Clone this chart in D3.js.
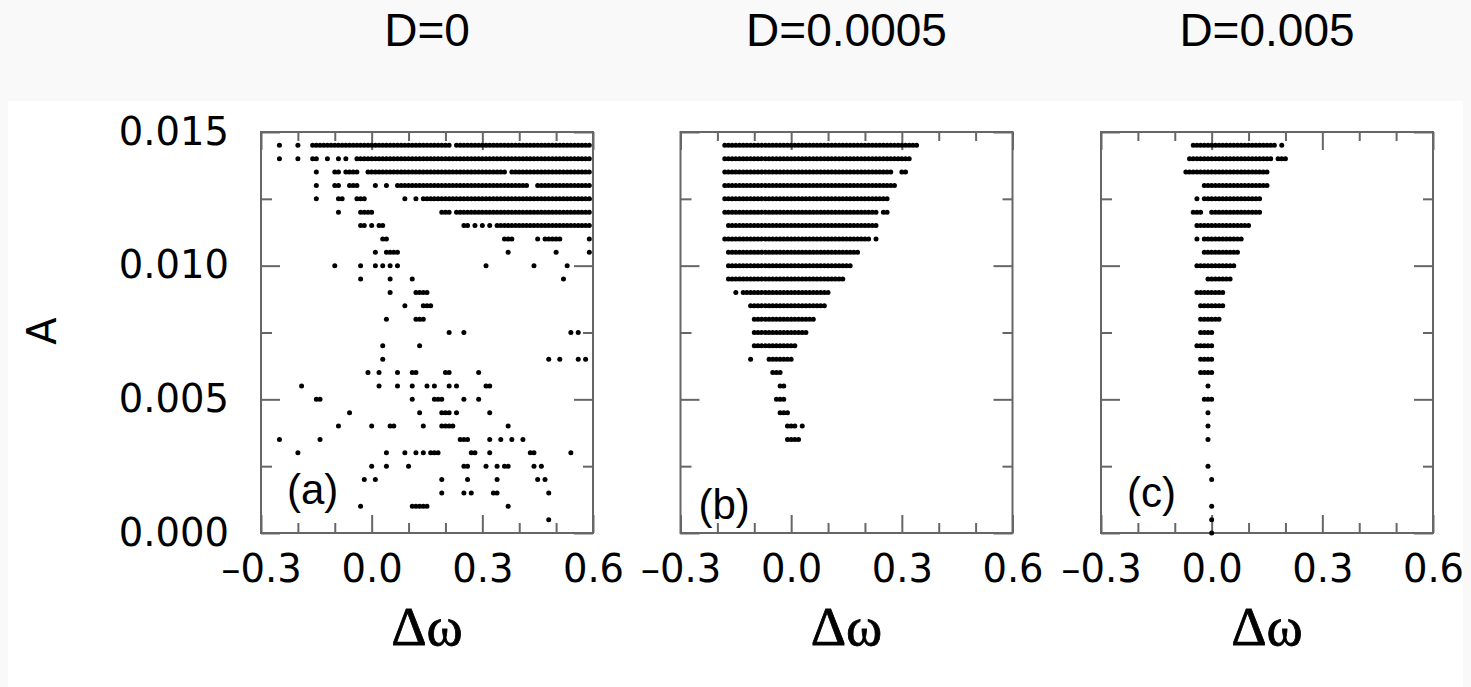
<!DOCTYPE html>
<html>
<head>
<meta charset="utf-8">
<script src="https://cdn.jsdelivr.net/npm/d3@7/dist/d3.min.js"></script>
<style>
  body { margin: 0; background: #f9f9f9; }
  svg { display: block; }
</style>
</head>
<body>
<script>
// panel headings and labels
var titles = ["D=0", "D=0.0005", "D=0.005"];
var tags = ["(a)", "(b)", "(c)"];

// tick values
var xTicks = [-0.3, 0.0, 0.3, 0.6];
var xMinor = [-0.2, -0.1, 0.1, 0.2, 0.4, 0.5];
var yTicks = [0.000, 0.005, 0.010, 0.015];
var yMinor = [0.0025, 0.0075, 0.0125];

// runs of points: [A, dOmega from, dOmega to]  (from == to -> single point)
var runsA = [
  [0.0145,-0.25,-0.25],[0.0145,-0.20,-0.20],[0.0145,-0.16,0.21],[0.0145,0.23,0.59],
  [0.014,-0.25,-0.25],[0.014,-0.20,-0.20],[0.014,-0.16,-0.15],[0.014,-0.12,-0.12],[0.014,-0.09,-0.09],[0.014,-0.07,-0.07],[0.014,-0.04,0.59],
  [0.0135,-0.15,-0.15],[0.0135,-0.10,-0.09],[0.0135,-0.07,-0.04],[0.0135,-0.01,0.36],[0.0135,0.38,0.59],
  [0.013,-0.15,-0.15],[0.013,-0.10,-0.09],[0.013,-0.06,-0.04],[0.013,0.01,0.01],[0.013,0.04,0.04],[0.013,0.07,0.42],[0.013,0.45,0.59],
  [0.0125,-0.15,-0.15],[0.0125,-0.09,-0.08],[0.0125,-0.04,-0.02],[0.0125,0.09,0.09],[0.0125,0.12,0.12],[0.0125,0.14,0.59],
  [0.012,-0.09,-0.09],[0.012,-0.03,0.00],[0.012,0.19,0.21],[0.012,0.23,0.59],
  [0.0115,-0.03,-0.02],[0.0115,0.00,0.00],[0.0115,0.02,0.03],[0.0115,0.25,0.26],[0.0115,0.28,0.28],[0.0115,0.30,0.30],[0.0115,0.32,0.32],[0.0115,0.34,0.59],
  [0.011,0.03,0.04],[0.011,0.36,0.38],[0.011,0.45,0.45],[0.011,0.47,0.51],[0.011,0.59,0.59],
  [0.0105,0.01,0.01],[0.0105,0.04,0.07],[0.0105,0.37,0.37],[0.0105,0.50,0.50],[0.0105,0.59,0.59],
  [0.010,-0.10,-0.10],[0.010,-0.03,-0.03],[0.010,0.01,0.01],[0.010,0.03,0.03],[0.010,0.05,0.05],[0.010,0.07,0.07],[0.010,0.31,0.31],[0.010,0.44,0.44],[0.010,0.53,0.53],
  [0.0095,-0.03,-0.03],[0.0095,0.05,0.05],[0.0095,0.11,0.11],[0.0095,0.52,0.52],
  [0.009,0.05,0.05],[0.009,0.12,0.15],
  [0.0085,0.09,0.09],[0.0085,0.14,0.16],
  [0.008,0.04,0.04],[0.008,0.12,0.14],
  [0.0075,0.21,0.21],[0.0075,0.25,0.25],[0.0075,0.54,0.54],[0.0075,0.56,0.56],
  [0.007,0.03,0.03],[0.007,0.13,0.13],
  [0.0065,0.03,0.03],[0.0065,0.48,0.48],[0.0065,0.51,0.51],[0.0065,0.56,0.56],[0.0065,0.58,0.58],
  [0.006,-0.01,-0.01],[0.006,0.02,0.02],[0.006,0.07,0.07],[0.006,0.11,0.12],[0.006,0.20,0.21],[0.006,0.29,0.29],
  [0.0055,-0.19,-0.19],[0.0055,0.02,0.02],[0.0055,0.07,0.07],[0.0055,0.11,0.11],[0.0055,0.15,0.15],[0.0055,0.17,0.17],[0.0055,0.21,0.21],[0.0055,0.23,0.23],[0.0055,0.31,0.32],
  [0.005,-0.15,-0.14],[0.005,0.11,0.11],[0.005,0.17,0.19],[0.005,0.25,0.25],[0.005,0.29,0.29],
  [0.0045,-0.06,-0.06],[0.0045,0.13,0.13],[0.0045,0.19,0.21],[0.0045,0.23,0.23],[0.0045,0.32,0.32],
  [0.004,-0.09,-0.09],[0.004,0.00,0.00],[0.004,0.05,0.06],[0.004,0.14,0.14],[0.004,0.19,0.22],[0.004,0.37,0.37],
  [0.0035,-0.25,-0.25],[0.0035,-0.14,-0.14],[0.0035,0.24,0.26],[0.0035,0.32,0.32],[0.0035,0.35,0.35],[0.0035,0.38,0.38],[0.0035,0.41,0.41],
  [0.003,-0.20,-0.20],[0.003,0.04,0.04],[0.003,0.09,0.09],[0.003,0.12,0.12],[0.003,0.14,0.14],[0.003,0.16,0.18],[0.003,0.27,0.28],[0.003,0.32,0.32],[0.003,0.43,0.44],[0.003,0.54,0.54],
  [0.0025,0.00,0.00],[0.0025,0.04,0.04],[0.0025,0.10,0.10],[0.0025,0.25,0.26],[0.0025,0.31,0.31],[0.0025,0.34,0.34],[0.0025,0.36,0.37],[0.0025,0.44,0.44],[0.0025,0.46,0.46],
  [0.002,-0.02,-0.02],[0.002,0.01,0.01],[0.002,0.19,0.19],[0.002,0.26,0.26],[0.002,0.34,0.34],[0.002,0.45,0.45],[0.002,0.47,0.47],
  [0.0015,0.19,0.19],[0.0015,0.25,0.25],[0.0015,0.27,0.27],[0.0015,0.33,0.34],[0.0015,0.48,0.48],
  [0.001,-0.03,-0.03],[0.001,0.11,0.15],[0.001,0.37,0.37],
  [0.0005,0.48,0.48]
];

var runsB = [
  [0.0145,-0.18,0.34],
  [0.014,-0.18,0.32],
  [0.0135,-0.18,0.27],[0.0135,0.30,0.31],
  [0.013,-0.18,0.28],
  [0.0125,-0.18,0.26],
  [0.012,-0.18,0.23],[0.012,0.25,0.26],
  [0.0115,-0.17,0.23],
  [0.011,-0.18,0.21],[0.011,0.23,0.23],
  [0.0105,-0.17,0.18],
  [0.010,-0.17,0.16],
  [0.0095,-0.17,0.14],
  [0.009,-0.15,-0.15],[0.009,-0.13,0.10],
  [0.0085,-0.11,0.09],
  [0.008,-0.10,0.06],
  [0.0075,-0.10,0.04],
  [0.007,-0.10,0.01],
  [0.0065,-0.11,-0.11],[0.0065,-0.06,0.00],
  [0.006,-0.05,-0.03],
  [0.0055,-0.03,-0.02],
  [0.005,-0.04,-0.02],
  [0.0045,-0.03,-0.01],
  [0.004,-0.01,0.01],[0.004,0.03,0.03],
  [0.0035,-0.01,0.02]
];

var runsC = [
  [0.0145,-0.05,0.17],[0.0145,0.19,0.19],
  [0.014,-0.06,-0.05],[0.014,-0.04,0.16],[0.014,0.18,0.20],
  [0.0135,-0.07,-0.05],[0.0135,-0.04,0.15],
  [0.013,-0.02,0.15],
  [0.0125,-0.04,-0.04],[0.0125,-0.02,0.13],
  [0.012,-0.05,-0.03],[0.012,0.00,0.13],
  [0.0115,-0.04,0.10],
  [0.011,-0.04,-0.04],[0.011,-0.02,0.08],
  [0.0105,-0.02,0.07],
  [0.010,-0.04,0.06],
  [0.0095,-0.01,0.05],
  [0.009,-0.04,0.03],
  [0.0085,-0.03,0.03],
  [0.008,-0.03,0.02],
  [0.0075,-0.03,0.00],
  [0.007,-0.04,0.00],
  [0.0065,-0.03,0.00],
  [0.006,-0.03,0.00],
  [0.0055,-0.01,-0.01],
  [0.005,-0.02,0.00],
  [0.0045,-0.01,-0.01],
  [0.004,-0.01,-0.01],
  [0.0035,-0.01,-0.01],
  [0.0025,-0.01,-0.01],
  [0.002,0.00,0.00],
  [0.001,0.00,0.00],
  [0.0005,0.00,0.00],
  [0.000,0.00,0.00]
];

var panels = [runsA, runsB, runsC];

var w = 1471, h = 687;
var panelLeft = [261, 680.5, 1101];
var plotTop = 132, plotW = 332, plotH = 401;
var frameColor = "#666";

var svg = d3.select("body").append("svg")
    .attr("width", w)
    .attr("height", h);

// white figure area under the titles
svg.append("rect")
    .attr("x", 8).attr("y", 101)
    .attr("width", w - 16).attr("height", h - 101)
    .attr("fill", "#fff");

var x = d3.scaleLinear().domain([-0.3, 0.6]).range([0, plotW]);
var y = d3.scaleLinear().domain([0, 0.015]).range([plotH, 0]);
var pitch = x(0.01) - x(0);

function styleAxis(sel) {
    sel.select(".domain").remove();
    sel.selectAll(".tick line").attr("stroke", frameColor).attr("stroke-width", 2);
    sel.selectAll(".tick text")
        .attr("fill", "#000")
        .style("font-family", "'DejaVu Sans', sans-serif")
        .style("font-size", "38.5px");
}

panels.forEach(function(runs, i) {
    var g = svg.append("g")
        .attr("transform", "translate(" + panelLeft[i] + "," + plotTop + ")");

    // title above the panel
    svg.append("text")
        .attr("x", panelLeft[i] + plotW / 2)
        .attr("y", 46)
        .attr("text-anchor", "middle")
        .style("font-family", "'Liberation Sans', Arial, sans-serif")
        .style("font-size", "46px")
        .text(titles[i]);

    // bottom: major ticks with labels, then minor ticks
    g.append("g")
        .attr("transform", "translate(0," + plotH + ")")
        .call(d3.axisBottom(x).tickValues(xTicks).tickSize(-18).tickPadding(22)
            .tickFormat(function(d) { return d3.format(".1f")(d).replace("−", "–"); }))
        .call(styleAxis);
    g.append("g")
        .attr("transform", "translate(0," + plotH + ")")
        .call(d3.axisBottom(x).tickValues(xMinor).tickSize(-10).tickFormat(""))
        .call(styleAxis);

    // top mirror
    g.append("g")
        .call(d3.axisTop(x).tickValues(xTicks).tickSize(-18).tickFormat(""))
        .call(styleAxis);
    g.append("g")
        .call(d3.axisTop(x).tickValues(xMinor).tickSize(-9).tickFormat(""))
        .call(styleAxis);

    // left
    var left = d3.axisLeft(y).tickValues(yTicks).tickSize(-19).tickPadding(32)
        .tickFormat(i === 0 ? d3.format(".3f") : "");
    g.append("g").call(left).call(styleAxis);
    g.append("g")
        .call(d3.axisLeft(y).tickValues(yMinor).tickSize(-11).tickFormat(""))
        .call(styleAxis);

    // right mirror
    g.append("g")
        .attr("transform", "translate(" + plotW + ",0)")
        .call(d3.axisRight(y).tickValues(yTicks).tickSize(-19).tickFormat(""))
        .call(styleAxis);
    g.append("g")
        .attr("transform", "translate(" + plotW + ",0)")
        .call(d3.axisRight(y).tickValues(yMinor).tickSize(-10).tickFormat(""))
        .call(styleAxis);

    // frame
    g.append("rect")
        .attr("width", plotW).attr("height", plotH)
        .attr("fill", "none")
        .attr("stroke", frameColor)
        .attr("stroke-width", 2);

    // runs of neighbouring points drawn as dotted strokes
    g.selectAll(".run")
        .data(runs.filter(function(d) { return d[1] !== d[2]; }))
        .enter().append("path")
        .attr("class", "run")
        .attr("d", function(d) {
            return d3.line()([[x(d[1]), y(d[0])], [x(d[2]) + 0.5, y(d[0])]]);
        })
        .attr("fill", "none")
        .attr("stroke", "#000")
        .attr("stroke-width", 5)
        .attr("stroke-linecap", "round")
        .attr("stroke-dasharray", "0," + pitch);

    // isolated points
    g.selectAll(".pt")
        .data(runs.filter(function(d) { return d[1] === d[2]; }))
        .enter().append("circle")
        .attr("class", "pt")
        .attr("cx", function(d) { return x(d[1]); })
        .attr("cy", function(d) { return y(d[0]); })
        .attr("r", 2.5)
        .attr("fill", "#000");

    // panel tag
    g.append("text")
        .attr("x", [26, 18, 26][i])
        .attr("y", [372, 387, 375][i])
        .style("font-family", "'Liberation Sans', Arial, sans-serif")
        .style("font-size", "42px")
        .text(tags[i]);

    // x axis name
    svg.append("text")
        .attr("x", panelLeft[i] + plotW / 2)
        .attr("y", 645)
        .attr("text-anchor", "middle")
        .attr("stroke", "#000")
        .attr("stroke-width", 0.8)
        .style("font-family", "'Liberation Serif', 'Times New Roman', serif")
        .style("font-size", "55px")
        .text("Δω");
});

// y axis name
svg.append("text")
    .attr("transform", "translate(56,331) rotate(-90)")
    .attr("text-anchor", "middle")
    .style("font-family", "'DejaVu Sans', sans-serif")
    .style("font-size", "40px")
    .text("A");
</script>
</body>
</html>
